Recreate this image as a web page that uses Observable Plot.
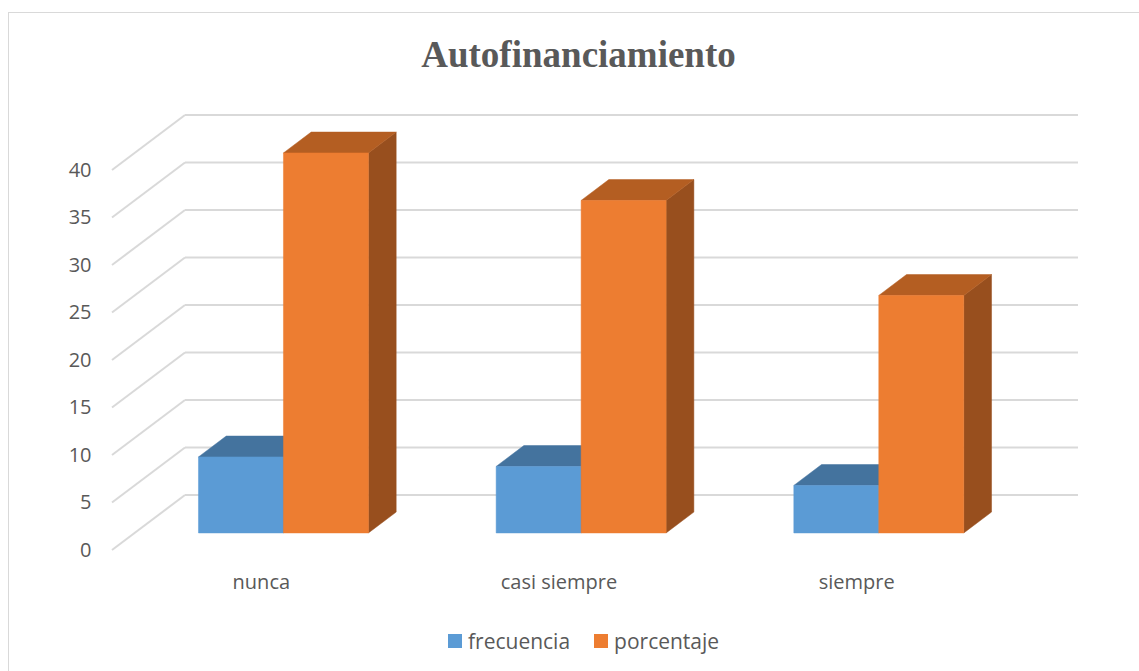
<!DOCTYPE html>
<html>
<head>
<meta charset="utf-8">
<script src="https://cdn.jsdelivr.net/npm/d3@7"></script>
<script src="https://cdn.jsdelivr.net/npm/@observablehq/plot@0.6"></script>
<style>
html, body { margin: 0; padding: 0; background: #fff; }
#page { position: relative; width: 1139px; height: 671px; overflow: hidden; font-family: "Open Sans", sans-serif; color: #595959; }
#frame { position: absolute; left: 8px; top: 12px; right: -4px; bottom: -4px; border-left: 1.5px solid #D9D9D9; border-top: 1.5px solid #D9D9D9; }
#title { position: absolute; left: 0; width: 1157px; top: 36px; text-align: center; font-family: "Liberation Serif", "Times New Roman", serif; font-weight: bold; font-size: 37px; line-height: 37px; color: #595959; }
#chart { position: absolute; left: 0; top: 90px; }
#legend { position: absolute; left: 448px; top: 624px; }
#legend div, #legend span { font-family: "Open Sans", sans-serif !important; font-size: 21px !important; color: #595959 !important; }
#legend span { margin-right: 24px !important; }
#legend svg { margin-right: 6px !important; }
</style>
</head>
<body>
<div id="page">
  <div id="frame"></div>
  <div id="title">Autofinanciamiento</div>
  <div id="chart"></div>
  <div id="legend"></div>
</div>
<script>
// ---- data ----
const categories = ["nunca", "casi siempre", "siempre"];
const seriesNames = ["frecuencia", "porcentaje"];
const frecuencia = [8, 7, 5];
const porcentaje = [40, 35, 25];
const yTicks = [0, 5, 10, 15, 20, 25, 30, 35, 40];

// ---- styles ----
const frontColors = ["#5B9BD5", "#ED7D31"];
const topColors   = ["#44739E", "#B45E22"];
const sideColors  = ["#3A6690", "#984F1E"];
const gridColor = "#D9D9D9";

const seriesValues = [frecuencia, porcentaje];
const rows = categories.flatMap((c, i) =>
  seriesNames.map((s, j) => ({category: c, series: s, si: j, value: seriesValues[j][i]}))
);

// 3D projection parameters (depth vector in pixels, bar depth range)
const DX = 73, DY = -55;
const D0 = 0.31, D1 = 0.69;
const PAD = 0.2145, BAR = 0.2855;

function bars3d(index, scales, values, dimensions) {
  const x = scales.x, y = scales.y;
  const bw = x.bandwidth();
  const [xa, xb] = x.range();
  const g = d3.create("svg:g");
  // back wall gridlines + side diagonals
  for (const t of yTicks) {
    g.append("line")
      .attr("x1", xa + DX).attr("x2", xb + DX)
      .attr("y1", y(t) + DY).attr("y2", y(t) + DY)
      .attr("stroke", gridColor).attr("stroke-width", 2);
    g.append("line")
      .attr("x1", xa).attr("y1", y(t))
      .attr("x2", xa + DX).attr("y2", y(t) + DY)
      .attr("stroke", gridColor).attr("stroke-width", 2);
  }
  const ddx = DX * (D1 - D0), ddy = DY * (D1 - D0);
  for (const r of rows) {
    const xl = x(r.category) + bw * PAD + r.si * bw * BAR + DX * D0;
    const xr = xl + bw * BAR;
    const yb = y(0) + DY * D0;
    const yt = y(r.value) + DY * D0;
    const poly = (pts, fill) => g.append("polygon")
      .attr("points", pts.map(p => p.join(",")).join(" "))
      .attr("fill", fill).attr("stroke", fill).attr("stroke-width", 0.5).attr("stroke-linejoin", "round");
    // side face
    poly([[xr, yt], [xr + ddx, yt + ddy], [xr + ddx, yb + ddy], [xr, yb]], sideColors[r.si]);
    // top face
    poly([[xl, yt], [xr, yt], [xr + ddx, yt + ddy], [xl + ddx, yt + ddy]], topColors[r.si]);
    // front face
    poly([[xl, yt], [xr, yt], [xr, yb], [xl, yb]], frontColors[r.si]);
  }
  return g.node();
}

const chart = Plot.plot({
  width: 1139,
  height: 520,
  marginLeft: 112,
  marginRight: 134,
  marginTop: 80,
  marginBottom: 60,
  style: {background: "transparent", fontFamily: "Open Sans", fontSize: "20px", color: "#595959", overflow: "visible"},
  x: {type: "band", domain: categories, padding: 0, round: false, axis: null},
  y: {domain: [0, 40], ticks: yTicks, tickSize: 0, tickPadding: 21, label: null},
  marks: [
    bars3d,
    Plot.text(categories, {x: d => d, y: () => 0, dy: 32, lineAnchor: "middle", fontSize: 20, fill: "#595959"})
  ]
});
document.getElementById("chart").appendChild(chart);

const legend = Plot.legend({
  color: {type: "ordinal", domain: seriesNames, range: frontColors},
  swatchSize: 14
});
document.getElementById("legend").appendChild(legend);
</script>
</body>
</html>
